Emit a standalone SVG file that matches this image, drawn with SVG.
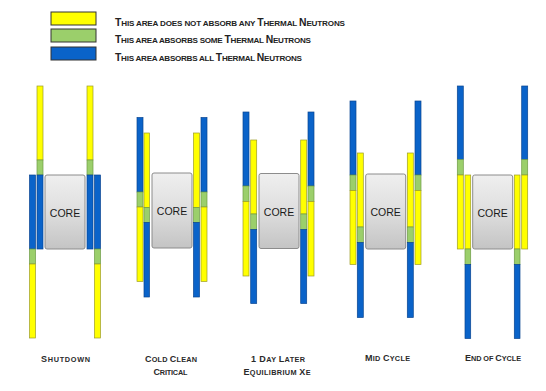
<svg xmlns="http://www.w3.org/2000/svg" width="546" height="391" viewBox="0 0 546 391">
<defs>
<linearGradient id="coreGrad" x1="0" y1="0" x2="0" y2="1">
<stop offset="0" stop-color="#efefef"/>
<stop offset="0.5" stop-color="#dedede"/>
<stop offset="1" stop-color="#c4c4c4"/>
</linearGradient>
</defs>
<style>
.y{fill:#ffff00;stroke:#9c9c2a;stroke-width:0.7}
.g{fill:#9bcf6b;stroke:#6d9a45;stroke-width:0.7}
.b{fill:#0a63c9;stroke:#0a4590;stroke-width:0.7}
.sw{stroke:#333333;stroke-width:1}
.core{fill:url(#coreGrad);stroke:#8c8c8c;stroke-width:1}
.ct{font-family:"Liberation Sans",Arial,sans-serif;font-size:10.5px;fill:#1a1a1a;text-anchor:middle}
.leg{font-family:"Liberation Sans",Arial,sans-serif;font-size:10.4px;font-weight:bold;fill:#222222}
.leg .s{font-size:8.1px}
.lbl{font-family:"Liberation Sans",Arial,sans-serif;font-size:9px;font-weight:bold;fill:#2a2a2a}
.lbl .s{font-size:7.3px}
</style>
<rect width="546" height="391" fill="#ffffff"/>

<g id="legend">
<rect class="y sw" x="51" y="12" width="45" height="13"/>
<rect class="g sw" x="51" y="29" width="45" height="13"/>
<rect class="b sw" x="51" y="47" width="45" height="13"/>
<text class="leg" x="115" y="26" textLength="230">T<tspan class="s">HIS AREA DOES NOT ABSORB ANY </tspan>T<tspan class="s">HERMAL </tspan>N<tspan class="s">EUTRONS</tspan></text>
<text class="leg" x="115" y="43" textLength="196">T<tspan class="s">HIS AREA ABSORBS SOME </tspan>T<tspan class="s">HERMAL </tspan>N<tspan class="s">EUTRONS</tspan></text>
<text class="leg" x="115" y="61" textLength="187">T<tspan class="s">HIS AREA ABSORBS ALL </tspan>T<tspan class="s">HERMAL </tspan>N<tspan class="s">EUTRONS</tspan></text>
</g>

<g id="shutdown">
<g id="sd-left-outer"><rect class="b" x="29.5" y="175" width="6" height="74"/><rect class="g" x="29.5" y="249" width="6" height="15"/><rect class="y" x="29.5" y="264" width="6" height="74"/></g>
<g id="sd-left-inner"><rect class="y" x="37" y="86" width="6" height="74"/><rect class="g" x="37" y="160" width="6" height="15"/><rect class="b" x="37" y="175" width="6" height="74"/></g>
<g id="sd-core"><rect class="core" x="45" y="175" width="40" height="74" rx="2"/><text class="ct" x="65" y="216.5">CORE</text></g>
<g id="sd-right-inner"><rect class="y" x="87" y="86" width="6" height="74"/><rect class="g" x="87" y="160" width="6" height="15"/><rect class="b" x="87" y="175" width="6" height="74"/></g>
<g id="sd-right-outer"><rect class="b" x="94.5" y="175" width="6" height="74"/><rect class="g" x="94.5" y="249" width="6" height="15"/><rect class="y" x="94.5" y="264" width="6" height="74"/></g>
<text class="lbl" x="41" y="361.5" textLength="49">S<tspan class="s">HUTDOWN</tspan></text>
</g>

<g id="cold-clean">
<g id="cc-left-outer"><rect class="b" x="137" y="117.5" width="6" height="74.5"/><rect class="g" x="137" y="192" width="6" height="15"/><rect class="y" x="137" y="207" width="6" height="74.5"/></g>
<g id="cc-left-inner"><rect class="y" x="144" y="133" width="5.5" height="74.5"/><rect class="g" x="144" y="207.5" width="5.5" height="15"/><rect class="b" x="144" y="222.5" width="5.5" height="74.5"/></g>
<g id="cc-core"><rect class="core" x="152" y="173" width="40" height="75" rx="2"/><text class="ct" x="172" y="215">CORE</text></g>
<g id="cc-right-inner"><rect class="y" x="193.5" y="133" width="6" height="74.5"/><rect class="g" x="193.5" y="207.5" width="6" height="15"/><rect class="b" x="193.5" y="222.5" width="6" height="74.5"/></g>
<g id="cc-right-outer"><rect class="b" x="201" y="117.5" width="6" height="74.5"/><rect class="g" x="201" y="192" width="6" height="15"/><rect class="y" x="201" y="207" width="6" height="74.5"/></g>
<text class="lbl" x="145" y="361.5" textLength="52">C<tspan class="s">OLD </tspan>C<tspan class="s">LEAN</tspan></text>
<text class="lbl" x="153.5" y="375" textLength="34">C<tspan class="s">RITICAL</tspan></text>
</g>

<g id="one-day">
<g id="od-left-outer"><rect class="b" x="243" y="112" width="6" height="74"/><rect class="g" x="243" y="186" width="6" height="15.5"/><rect class="y" x="243" y="201.5" width="6" height="74.5"/></g>
<g id="od-left-inner"><rect class="y" x="250.7" y="140" width="6" height="74"/><rect class="g" x="250.7" y="214" width="6" height="15.5"/><rect class="b" x="250.7" y="229.5" width="6" height="74"/></g>
<g id="od-core"><rect class="core" x="259" y="173.5" width="40" height="75" rx="2"/><text class="ct" x="279" y="215.5">CORE</text></g>
<g id="od-right-inner"><rect class="y" x="300.7" y="140" width="6" height="74"/><rect class="g" x="300.7" y="214" width="6" height="15.5"/><rect class="b" x="300.7" y="229.5" width="6" height="74"/></g>
<g id="od-right-outer"><rect class="b" x="308" y="112" width="6" height="74"/><rect class="g" x="308" y="186" width="6" height="15.5"/><rect class="y" x="308" y="201.5" width="6" height="74.5"/></g>
<text class="lbl" x="251" y="361.5" textLength="54">1 D<tspan class="s">AY </tspan>L<tspan class="s">ATER</tspan></text>
<text class="lbl" x="243.5" y="374.5" textLength="67">E<tspan class="s">QUILIBRIUM </tspan>X<tspan class="s">E</tspan></text>
</g>

<g id="mid-cycle">
<g id="mc-left-outer"><rect class="b" x="350" y="101" width="6" height="74"/><rect class="g" x="350" y="175" width="6" height="15.5"/><rect class="y" x="350" y="190.5" width="6" height="74"/></g>
<g id="mc-left-inner"><rect class="y" x="357.3" y="153" width="6" height="74"/><rect class="g" x="357.3" y="227" width="6" height="15.5"/><rect class="b" x="357.3" y="242.5" width="6" height="75"/></g>
<g id="mc-core"><rect class="core" x="365.7" y="174" width="40" height="75" rx="2"/><text class="ct" x="385.7" y="216">CORE</text></g>
<g id="mc-right-inner"><rect class="y" x="407.3" y="153" width="6" height="74"/><rect class="g" x="407.3" y="227" width="6" height="15.5"/><rect class="b" x="407.3" y="242.5" width="6" height="75"/></g>
<g id="mc-right-outer"><rect class="b" x="415" y="101" width="6" height="74"/><rect class="g" x="415" y="175" width="6" height="15.5"/><rect class="y" x="415" y="190.5" width="6" height="74"/></g>
<text class="lbl" x="365" y="361" textLength="45">M<tspan class="s">ID </tspan>C<tspan class="s">YCLE</tspan></text>
</g>

<g id="end-of-cycle">
<g id="ec-left-outer"><rect class="b" x="457.3" y="86" width="6" height="73.5"/><rect class="g" x="457.3" y="159.5" width="6" height="15.5"/><rect class="y" x="457.3" y="175" width="6" height="74"/></g>
<g id="ec-left-inner"><rect class="y" x="465" y="175" width="5.7" height="74"/><rect class="g" x="465" y="249" width="5.7" height="15.5"/><rect class="b" x="465" y="264.5" width="5.7" height="74"/></g>
<g id="ec-core"><rect class="core" x="472.7" y="175" width="40" height="74" rx="2"/><text class="ct" x="492.7" y="216.5">CORE</text></g>
<g id="ec-right-inner"><rect class="y" x="514.3" y="175" width="5.7" height="74"/><rect class="g" x="514.3" y="249" width="5.7" height="15.5"/><rect class="b" x="514.3" y="264.5" width="5.7" height="74"/></g>
<g id="ec-right-outer"><rect class="b" x="521.7" y="86" width="6" height="73.5"/><rect class="g" x="521.7" y="159.5" width="6" height="15.5"/><rect class="y" x="521.7" y="175" width="6" height="74"/></g>
<text class="lbl" x="465" y="361" textLength="56">E<tspan class="s">ND OF </tspan>C<tspan class="s">YCLE</tspan></text>
</g>
</svg>
